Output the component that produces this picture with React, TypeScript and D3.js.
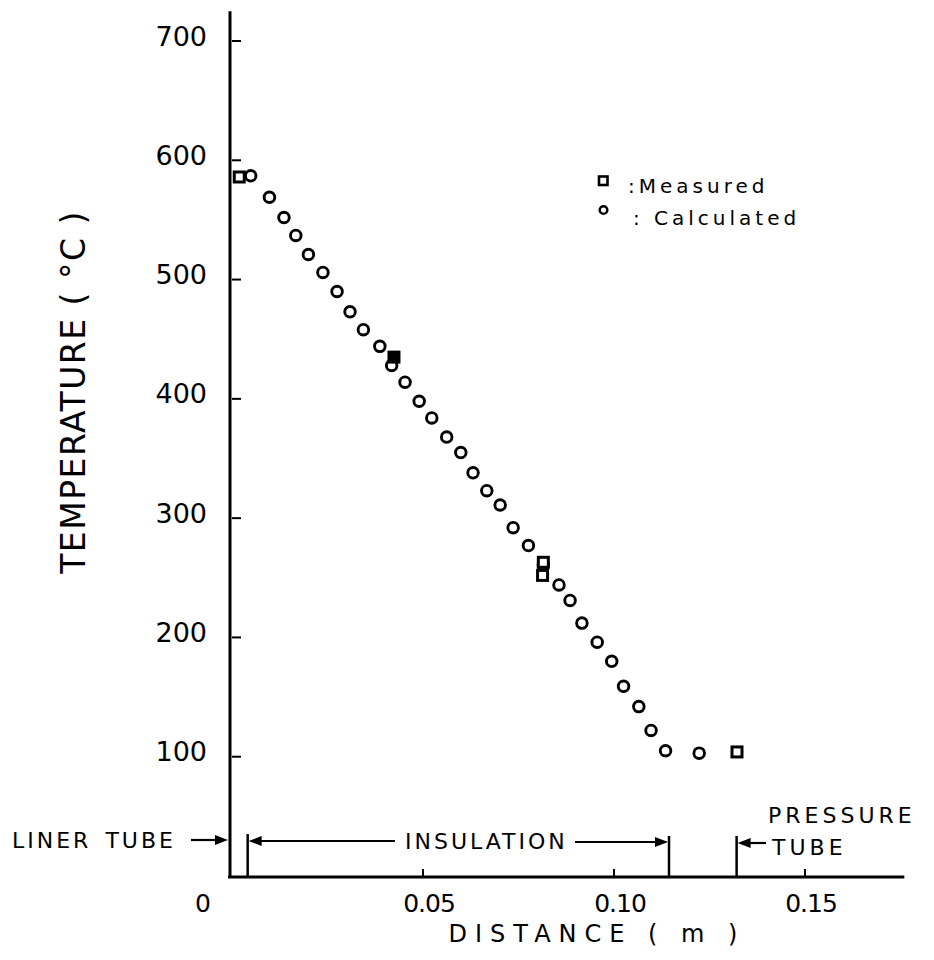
import React from 'react';
import * as d3 from 'd3';

// calculated temperatures (distance m, temperature C)
const calcX = [0.0049, 0.0098, 0.0136, 0.0167, 0.0200, 0.0238, 0.0275, 0.0309, 0.0344, 0.0387, 0.0418,
  0.0453, 0.0490, 0.0523, 0.0562, 0.0599, 0.0631, 0.0667, 0.0702, 0.0736, 0.0776, 0.0815, 0.0856,
  0.0885, 0.0916, 0.0956, 0.0994, 0.1025, 0.1065, 0.1097, 0.1135, 0.1223];
const calcT = [587, 569, 552, 537, 521, 506, 490, 473, 458, 444, 428,
  414, 398, 384, 368, 355, 338, 323, 311, 292, 277, 261, 244,
  231, 212, 196, 180, 159, 142, 122, 105, 103];

// measured temperatures
const measX = [0.0019, 0.0424, 0.0815, 0.0813, 0.1322];
const measT = [586, 435, 263, 252, 104];

const yTicks = [100, 200, 300, 400, 500, 600, 700];
const xTicks = [0.05, 0.10, 0.15];
const xTickLabels = ['0.05', '0.10', '0.15'];

// region boundaries: liner / insulation end / pressure tube
const bounds = [0.0041, 0.1144, 0.1321];

const W = 934;
const H = 960;

const App = () => {
  const x = d3.scaleLinear().domain([0, 0.05]).range([232, 423]);
  const y = d3.scaleLinear().domain([0, 700]).range([876, 41]);
  const axisY = 877;
  const font = "'DejaVu Sans', sans-serif";

  const arrow = (x1: number, x2: number, yy: number, key: string) => {
    const dir = x2 > x1 ? 1 : -1;
    return (
      <g key={key}>
        <line x1={x1} y1={yy} x2={x2 - dir * 6} y2={yy} stroke="#000" strokeWidth={2.2} />
        <path d={`M${x2},${yy} L${x2 - dir * 13},${yy - 5} L${x2 - dir * 13},${yy + 5} Z`} fill="#000" />
      </g>
    );
  };

  return (
    <svg width={W} height={H} style={{ position: 'absolute', left: 0, top: 0, background: '#fff' }}>
      <rect width={W} height={H} fill="#fff" />

      {/* axes */}
      <line x1={x(0) - 2} y1={y(725)} x2={x(0) - 2} y2={axisY + 1} stroke="#000" strokeWidth={3} />
      <line x1={x(0) - 4} y1={axisY} x2={x(0.176)} y2={axisY} stroke="#000" strokeWidth={3} />

      {yTicks.map(t => (
        <g key={'yt' + t}>
          <line x1={x(0)} y1={y(t)} x2={x(0) + 9} y2={y(t)} stroke="#000" strokeWidth={2} />
          <text x={207} y={y(t) - 3} textAnchor="end" dominantBaseline="middle"
            fontFamily={font} fontSize={27}>{t}</text>
        </g>
      ))}

      {xTicks.map((t, i) => (
        <g key={'xt' + t}>
          <line x1={x(t)} y1={axisY} x2={x(t)} y2={axisY - 8} stroke="#000" strokeWidth={2} />
          <text x={x(t) + 6} y={912} textAnchor="middle" fontFamily={font} fontSize={25}
            letterSpacing={-1}>{xTickLabels[i]}</text>
        </g>
      ))}
      <text x={x(0) - 29} y={912} textAnchor="middle" fontFamily={font} fontSize={25}>0</text>

      {/* axis titles */}
      <text transform={`translate(${85},${392}) rotate(-90)`} textAnchor="middle"
        fontFamily={font} fontSize={33} letterSpacing={1.5}>TEMPERATURE  ( °C )</text>
      <text x={597} y={942} textAnchor="middle" fontFamily={font} fontSize={24}
        letterSpacing={8}>DISTANCE ( m )</text>

      {/* region boundaries */}
      <line x1={x(bounds[0])} y1={834} x2={x(bounds[0])} y2={axisY} stroke="#000" strokeWidth={2.5} />
      <line x1={x(bounds[1])} y1={836} x2={x(bounds[1])} y2={axisY} stroke="#000" strokeWidth={2.5} />
      <line x1={x(bounds[2])} y1={836} x2={x(bounds[2])} y2={axisY} stroke="#000" strokeWidth={2.5} />

      {/* annotations */}
      <text x={12} y={848} fontFamily={font} fontSize={22} letterSpacing={3} wordSpacing={4}>LINER TUBE</text>
      {arrow(191, x(0) - 4, 840, 'a1')}
      {arrow(395, x(bounds[0]) + 1, 841, 'a2')}
      <text x={405} y={849} fontFamily={font} fontSize={22} letterSpacing={3}>INSULATION</text>
      {arrow(575, x(bounds[1]) - 1, 842, 'a3')}
      {arrow(766, x(bounds[2]) + 1, 843, 'a4')}
      <text x={768} y={823} fontFamily={font} fontSize={22} letterSpacing={4}>PRESSURE</text>
      <text x={772} y={855} fontFamily={font} fontSize={22} letterSpacing={4}>TUBE</text>

      {/* calculated points */}
      {calcX.map((d, i) => (
        <circle key={'c' + i} cx={x(d)} cy={y(calcT[i])} r={5.3} fill="#fff" stroke="#000" strokeWidth={2.9} />
      ))}

      {/* measured points */}
      {measX.map((d, i) => (
        <rect key={'m' + i} x={x(d) - 5} y={y(measT[i]) - 5} width={10} height={10}
          fill={i === 1 ? '#000' : '#fff'} stroke="#000" strokeWidth={3} />
      ))}

      {/* legend */}
      <rect x={599} y={176.5} width={8.5} height={8.5} fill="#fff" stroke="#000" strokeWidth={2.6} />
      <text x={628} y={193} fontFamily={font} fontSize={20} letterSpacing={4}>:Measured</text>
      <circle cx={603.5} cy={210} r={3.8} fill="#fff" stroke="#000" strokeWidth={2.5} />
      <text x={633} y={225} fontFamily={font} fontSize={20} letterSpacing={4}>: Calculated</text>
    </svg>
  );
};

export default App;
